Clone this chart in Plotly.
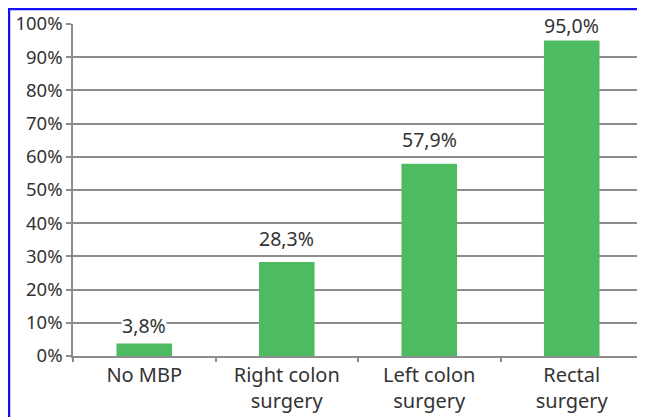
import plotly.graph_objects as go

categories = ["No MBP", "Right colon<br>surgery", "Left colon<br>surgery", "Rectal<br>surgery"]
values = [3.8, 28.3, 57.9, 95.0]
labels = ["3,8%", "28,3%", "57,9%", "95,0%"]
y_ticks = list(range(0, 101, 10))
y_tick_labels = [f"{v}%" for v in y_ticks]

# style: vertical pixel offsets of the value labels above the bars
label_shift_px = [3, 9, 10, 1]

FONT = "Noto Sans, Liberation Sans, Arial, sans-serif"
TXT = "#333333"
GRID = "#8c8c8c"

fig = go.Figure()
fig.add_trace(go.Bar(
    x=categories, y=values,
    marker=dict(color="#4DBB62", line=dict(width=0)),
    width=0.39,
))

for c, v, t, s in zip(categories, values, labels, label_shift_px):
    fig.add_annotation(x=c, y=v, text=t, showarrow=False, yanchor="bottom",
                       yshift=s, bgcolor="white", borderpad=0,
                       font=dict(family=FONT, size=19.5, color=TXT))

# blue frame around the figure
fig.add_shape(type="rect", xref="paper", yref="paper",
              x0=-0.1123, x1=1.03, y0=-0.25, y1=1.0452,
              line=dict(color="#1010ff", width=2.5), layer="below")

fig.update_layout(
    width=637, height=409,
    margin=dict(l=65, r=2, t=16, b=61),
    paper_bgcolor="white", plot_bgcolor="white",
    showlegend=False,
    font=dict(family=FONT, size=19, color=TXT),
    bargap=0.61,
)
fig.update_yaxes(
    range=[0, 100], tickvals=y_ticks, ticktext=y_tick_labels,
    showgrid=True, gridcolor=GRID, gridwidth=1.5,
    showline=True, linecolor=GRID, linewidth=1.5,
    ticks="outside", ticklen=5, tickcolor=GRID, tickwidth=1.5,
    tickfont=dict(family=FONT, size=18.5, color=TXT),
    zeroline=False, fixedrange=True, automargin=False,
)
fig.update_xaxes(
    showline=True, linecolor=GRID, linewidth=1.5,
    ticks="outside", ticklen=4, tickcolor=GRID, tickwidth=1.5,
    tickson="boundaries",
    tickfont=dict(family=FONT, size=20, color=TXT),
    showgrid=False, automargin=False,
)

fig.write_html("out.html")
